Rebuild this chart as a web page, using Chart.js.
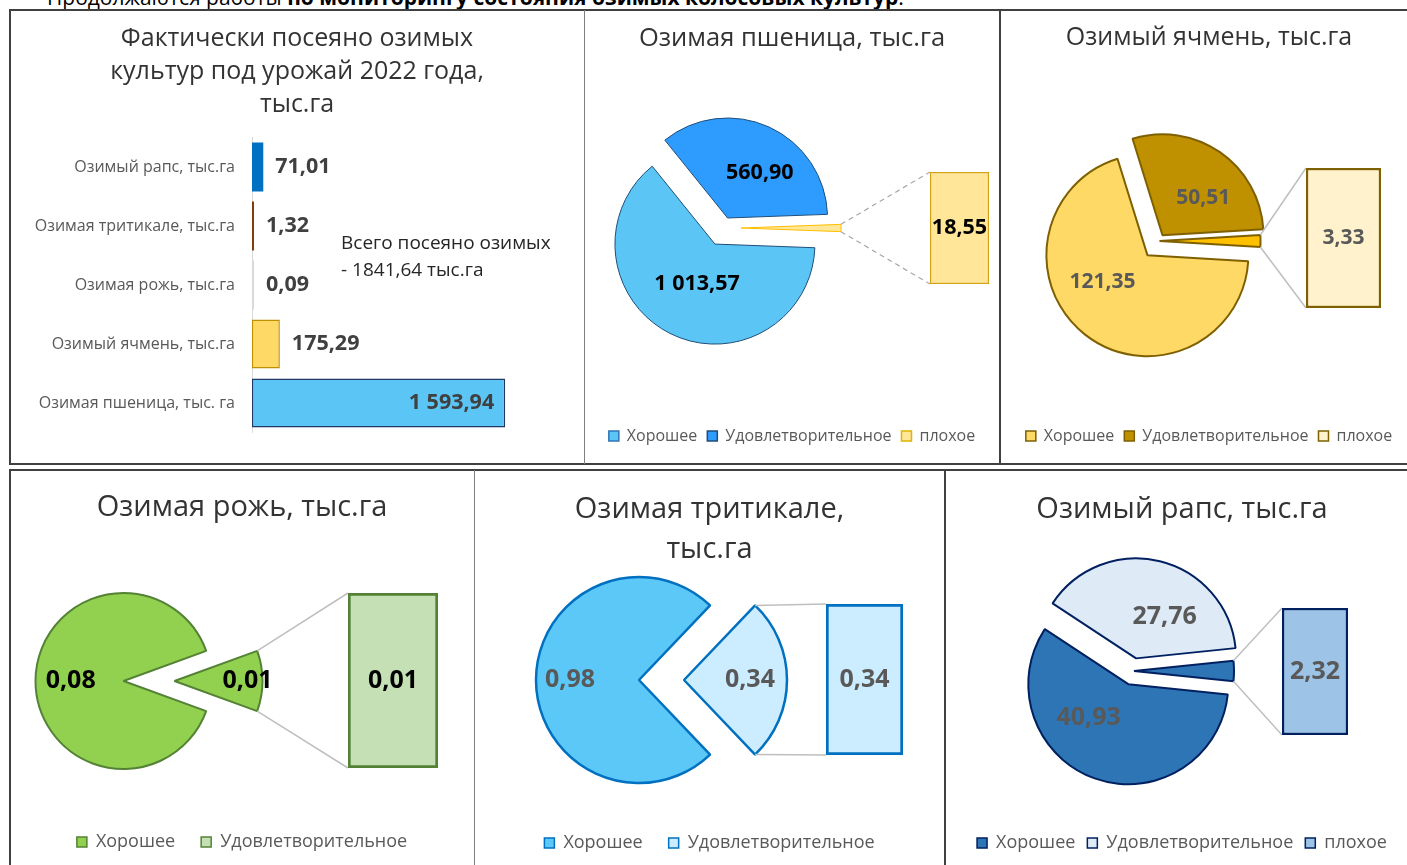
<!DOCTYPE html>
<html lang="ru">
<head>
<meta charset="utf-8">
<script src="https://cdn.jsdelivr.net/npm/chart.js@4.4.1/dist/chart.umd.min.js"></script>
<style>
  html, body { margin: 0; padding: 0; background: #fff; }
  body { width: 1407px; height: 865px; position: relative; overflow: hidden; font-family: 'Open Sans', sans-serif; }
  .lead { position: absolute; left: 47px; top: -16px; font-size: 21px; line-height: 26px; color: #000; white-space: nowrap; }
  .panel { position: absolute; overflow: hidden; }
  .panel canvas { position: absolute; }
  .frame { position: absolute; box-sizing: border-box; border: 0 solid #404040; pointer-events: none; }
  .vline { position: absolute; pointer-events: none; }
</style>
</head>
<body>
<div class="lead">Продолжаются работы <b>по мониторингу состояния озимых колосовых культур</b>.</div>

<div class="panel" id="sown" style="left:10px;top:10px;width:574px;height:453px;"></div>
<div class="panel" id="wheat" style="left:584px;top:10px;width:416px;height:453px;"></div>
<div class="panel" id="barley" style="left:1000px;top:10px;width:407px;height:453px;"></div>
<div class="panel" id="rye" style="left:10px;top:470px;width:464px;height:395px;"></div>
<div class="panel" id="triticale" style="left:474px;top:470px;width:471px;height:395px;"></div>
<div class="panel" id="rape" style="left:945px;top:470px;width:462px;height:395px;"></div>

<div class="frame" style="left:9px;top:9px;width:1420px;height:456px;border-top-width:2px;border-left-width:2px;border-bottom-width:2px;"></div>
<div class="vline" style="left:584px;top:10px;width:1px;height:454px;background:#7f7f7f;"></div>
<div class="vline" style="left:999px;top:10px;width:2px;height:454px;background:#404040;"></div>
<div class="frame" style="left:9px;top:469px;width:1420px;height:420px;border-top-width:2px;border-left-width:2px;"></div>
<div class="vline" style="left:474px;top:470px;width:1px;height:395px;background:#7f7f7f;"></div>
<div class="vline" style="left:944px;top:470px;width:2px;height:395px;background:#404040;"></div>

<script>
// ---- data ----
const sownCategories = ['Озимый рапс, тыс.га', 'Озимая тритикале, тыс.га', 'Озимая рожь, тыс.га', 'Озимый ячмень, тыс.га', 'Озимая пшеница, тыс. га'];
const sownValues = [71.01, 1.32, 0.09, 175.29, 1593.94];
const sownTotal = 1841.64;

const conditionNames = ['Хорошее', 'Удовлетворительное', 'плохое'];

const wheatValues = [1013.57, 560.90];   // Хорошее, Удовлетворительное
const wheatBad = [18.55];                // плохое (bar of pie)
const barleyValues = [121.35, 50.51];
const barleyBad = [3.33];
const ryeValues = [0.08];                // Хорошее
const ryeSatisf = [0.01];                // Удовлетворительное (bar of pie)
const triticaleValues = [0.98];
const triticaleSatisf = [0.34];
const rapeValues = [40.93, 27.76];
const rapeBad = [2.32];

// ---- helpers ----
const FONT = "'Open Sans', sans-serif";
Chart.defaults.font.family = FONT;

function fmt(v) {
  return v.toLocaleString('ru-RU', { minimumFractionDigits: 2, maximumFractionDigits: 2 }).replace(/[\u00a0\u202f]/g, ' ');
}
const sum = arr => arr.reduce((a, b) => a + b, 0);

function addCanvas(host, x, y, w, h) {
  const c = document.createElement('canvas');
  c.width = w; c.height = h;
  c.style.left = x + 'px'; c.style.top = y + 'px';
  c.style.width = w + 'px'; c.style.height = h + 'px';
  host.appendChild(c);
  return c;
}

// ---- panel 1: sown area, horizontal bars ----
const sownCanvas = addCanvas(document.getElementById('sown'), 0, 0, 574, 453);

const sownLabels = {
  id: 'sownLabels',
  afterDatasetsDraw(chart) {
    const ctx = chart.ctx;
    const meta = chart.getDatasetMeta(0);
    ctx.save();
    ctx.font = 'bold 21.5px ' + FONT;
    ctx.fillStyle = '#404040';
    ctx.textBaseline = 'middle';
    meta.data.forEach((bar, i) => {
      const text = fmt(sownValues[i]);
      if (bar.x - bar.base > 120) {
        ctx.textAlign = 'right';
        ctx.fillText(text, bar.x - 11, bar.y);
      } else {
        ctx.textAlign = 'left';
        ctx.fillText(text, bar.x + 12, bar.y);
      }
    });
    // total note
    const y = chart.scales.y;
    ctx.font = '19px ' + FONT;
    ctx.fillStyle = '#262626';
    ctx.textAlign = 'left';
    const x0 = chart.chartArea.left + 89;
    ctx.fillText('Всего посеяно озимых', x0, y.getPixelForValue(1.29));
    ctx.fillText('- ' + sownTotal.toLocaleString('ru-RU', { useGrouping: false, minimumFractionDigits: 2 }) + ' тыс.га', x0, y.getPixelForValue(1.75));
    ctx.restore();
  }
};

new Chart(sownCanvas, {
  type: 'bar',
  data: {
    labels: sownCategories,
    datasets: [{
      data: sownValues,
      backgroundColor: ['#0070C0', '#843C0C', '#D9D9D9', '#FFD966', '#5BC5F5'],
      borderColor: ['#0070C0', '#843C0C', '#D9D9D9', '#BF9000', '#1F3864'],
      borderWidth: [0, 0, 0, 1.5, 1.5],
      borderSkipped: false,
      minBarLength: 2,
      barPercentage: 0.83,
      categoryPercentage: 1
    }]
  },
  options: {
    indexAxis: 'y',
    responsive: false,
    animation: false,
    events: [],
    layout: { padding: { bottom: 30.5 } },
    plugins: {
      legend: { display: false },
      tooltip: { enabled: false },
      title: {
        display: true,
        text: ['Фактически посеяно озимых', 'культур под урожай 2022 года,', 'тыс.га'],
        color: '#333333',
        font: { size: 25, weight: 'normal', lineHeight: 1.32 },
        padding: { top: 12.5, bottom: 16 }
      }
    },
    scales: {
      x: { display: false, min: 0, max: 2090 },
      y: {
        afterFit(scale) { scale.width = 242; },
        grid: { display: false, drawTicks: false },
        border: { color: '#D9D9D9', width: 1 },
        ticks: { color: '#595959', font: { size: 16 }, padding: 17 }
      }
    }
  },
  plugins: [sownLabels]
});

// ---- pie-of-bar panels ----
function pieOfBar(p) {
  const host = document.getElementById(p.id);
  const canvasH = p.height + 40;
  const pieCanvas = addCanvas(host, 0, 0, p.width, canvasH);
  const boxCanvas = addCanvas(host, p.box[0], p.box[1], p.box[2], p.box[3]);
  const rest = sum(p.boxValues);
  const total = rest + sum(p.values);

  const boxLabel = {
    id: 'boxLabel',
    afterDatasetsDraw(chart) {
      const bar = chart.getDatasetMeta(0).data[0];
      const ctx = chart.ctx;
      ctx.save();
      ctx.font = 'bold ' + p.labelSize + 'px ' + FONT;
      ctx.fillStyle = p.labelColor;
      ctx.textAlign = 'center';
      ctx.textBaseline = 'middle';
      ctx.fillText(fmt(rest), bar.x, (bar.y + bar.base) / 2);
      ctx.restore();
    }
  };

  const boxChart = new Chart(boxCanvas, {
    type: 'bar',
    data: {
      labels: [p.names[p.names.length - 1]],
      datasets: [{
        data: [rest],
        backgroundColor: p.boxFill,
        borderColor: p.line,
        borderWidth: p.boxLine,
        borderSkipped: false,
        barPercentage: 1,
        categoryPercentage: 1
      }]
    },
    options: {
      responsive: false,
      animation: false,
      events: [],
      plugins: { legend: { display: false }, tooltip: { enabled: false } },
      scales: {
        x: { display: false },
        y: { display: false, min: 0, max: rest }
      }
    },
    plugins: [boxLabel]
  });

  const pieDecor = {
    id: 'pieDecor',
    afterLayout(chart) {
      const [cx, cy] = p.center;
      const h = p.radius + 40;
      chart.chartArea = { left: cx - h, top: cy - h, right: cx + h, bottom: cy + h, width: 2 * h, height: 2 * h };
    },
    afterDatasetUpdate(chart, args) {
      args.meta.data.forEach((arc, i) => {
        const d = p.explode[i] || 0;
        const mid = (arc.startAngle + arc.endAngle) / 2;
        arc.x += Math.cos(mid) * d;
        arc.y += Math.sin(mid) * d;
      });
    },
    afterDatasetsDraw(chart) {
      const ctx = chart.ctx;
      const meta = chart.getDatasetMeta(0);
      const data = chart.data.datasets[0].data;
      // leader lines from the "other" slice to the bar
      const s = meta.data[0];
      const R = s.outerRadius;
      const bar = boxChart.getDatasetMeta(0).data[0];
      const bx = p.box[0] + bar.x - bar.width / 2;
      const bTop = p.box[1] + bar.y;
      const bBottom = p.box[1] + bar.base;
      ctx.save();
      ctx.strokeStyle = p.connector;
      ctx.lineWidth = p.connectorWidth;
      ctx.setLineDash(p.dash || []);
      ctx.beginPath();
      ctx.moveTo(s.x + Math.cos(s.startAngle) * R, s.y + Math.sin(s.startAngle) * R);
      ctx.lineTo(bx, bTop);
      ctx.moveTo(s.x + Math.cos(s.endAngle) * R, s.y + Math.sin(s.endAngle) * R);
      ctx.lineTo(bx, bBottom);
      ctx.stroke();
      ctx.setLineDash([]);
      // slice labels
      ctx.font = 'bold ' + p.labelSize + 'px ' + FONT;
      ctx.fillStyle = p.labelColor;
      ctx.textAlign = 'center';
      ctx.textBaseline = 'middle';
      meta.data.forEach((arc, i) => {
        const at = p.labelAt[i];
        if (!at) return;
        const a = (arc.startAngle + arc.endAngle) / 2 + at[0] * Math.PI / 180;
        const r = at[1] * arc.outerRadius;
        ctx.fillText(fmt(data[i]), arc.x + Math.cos(a) * r, arc.y + Math.sin(a) * r);
      });
      ctx.restore();
    }
  };

  const legendBottom = (canvasH - p.legendY) - p.legendSize / 2 - p.legendPad;

  new Chart(pieCanvas, {
    type: 'pie',
    data: {
      labels: [''].concat(p.names.slice(0, p.values.length)),
      datasets: [{
        data: [rest].concat(p.values),
        backgroundColor: p.fills,
        borderColor: p.borders,
        borderWidth: p.lineWidth,
        clip: false
      }]
    },
    options: {
      responsive: false,
      animation: false,
      events: [],
      rotation: 90 - rest / total * 180,
      radius: p.radius,
      layout: { padding: { bottom: legendBottom } },
      plugins: {
        tooltip: { enabled: false },
        title: {
          display: true,
          text: p.title,
          color: '#333333',
          font: { size: p.titleSize, weight: 'normal', lineHeight: p.titleLine },
          padding: { top: p.titleTop, bottom: 0 }
        },
        legend: {
          position: 'bottom',
          labels: {
            color: '#595959',
            font: { size: p.legendSize },
            boxWidth: 10,
            boxHeight: 10,
            padding: p.legendGap,
            generateLabels: () => p.names.map((name, i) => ({
              text: name,
              fillStyle: p.legendFill[i],
              strokeStyle: p.legendLine[i],
              lineWidth: 1.5,
              hidden: false,
              index: i,
              fontColor: '#595959'
            }))
          }
        }
      }
    },
    plugins: [pieDecor]
  });
}

pieOfBar({
  id: 'wheat', width: 416, height: 453,
  title: ['Озимая пшеница, тыс.га'], titleSize: 25.5, titleLine: 1.3, titleTop: 12,
  names: conditionNames, values: wheatValues, boxValues: wheatBad,
  center: [139, 218], radius: 100, explode: [18, 18, 11],
  fills: ['#FFE699', '#5BC5F5', '#2E9BFF'], borders: ['#FFC000', '#1F4E79', '#1F4E79'], lineWidth: 1,
  line: '#D4A017', boxFill: '#FFE699', boxLine: 1.5, box: [346, 162, 59, 112],
  connector: '#A6A6A6', connectorWidth: 1.2, dash: [5, 4],
  labelSize: 21.5, labelColor: '#000000', labelAt: [null, [-2.6, 0.44], [11, 0.555]],
  legendSize: 16, legendGap: 10, legendPad: 10, legendY: 426,
  legendFill: ['#5BC5F5', '#2E9BFF', '#FFE699'], legendLine: ['#2E75B6', '#1F4E79', '#E0B400']
});

pieOfBar({
  id: 'barley', width: 418, height: 453,
  title: ['Озимый ячмень, тыс.га'], titleSize: 25, titleLine: 1.3, titleTop: 12,
  names: conditionNames, values: barleyValues, boxValues: barleyBad,
  center: [158.5, 231], radius: 101, explode: [1, 18, 7],
  fills: ['#FFC000', '#FFD966', '#BF9000'], borders: '#7F6000', lineWidth: 2,
  line: '#7F6000', boxFill: '#FFF2CC', boxLine: 2.5, box: [306, 158, 75, 140],
  connector: '#BFBFBF', connectorWidth: 1.5,
  labelSize: 21, labelColor: '#595959', labelAt: [null, [20.6, 0.52], [12.7, 0.55]],
  legendSize: 16, legendGap: 10, legendPad: 10, legendY: 426,
  legendFill: ['#FFD966', '#BF9000', '#FFF2CC'], legendLine: ['#7F6000', '#7F6000', '#7F6000']
});

pieOfBar({
  id: 'rye', width: 464, height: 395,
  title: ['Озимая рожь, тыс.га'], titleSize: 29, titleLine: 1.38, titleTop: 18,
  names: conditionNames.slice(0, 2), values: ryeValues, boxValues: ryeSatisf,
  center: [138.5, 211], radius: 88, explode: [26, 25],
  fills: ['#92D050', '#92D050'], borders: '#548235', lineWidth: 2,
  line: '#548235', boxFill: '#C5E0B4', boxLine: 3, box: [338, 123, 90, 175],
  connector: '#BFBFBF', connectorWidth: 1.5,
  labelSize: 25, labelColor: '#000000', labelAt: [[0, 0.83], [0, 0.6]],
  legendSize: 18, legendGap: 26, legendPad: 12, legendY: 370,
  legendFill: ['#92D050', '#C5E0B4'], legendLine: ['#548235', '#548235']
});

pieOfBar({
  id: 'triticale', width: 471, height: 395,
  title: ['Озимая тритикале,', 'тыс.га'], titleSize: 29, titleLine: 1.38, titleTop: 20,
  names: conditionNames.slice(0, 2), values: triticaleValues, boxValues: triticaleSatisf,
  center: [187.5, 210], radius: 103, explode: [22.5, 22.5],
  fills: ['#CCECFF', '#5BC8F7'], borders: '#0070C0', lineWidth: 2.5,
  line: '#0070C0', boxFill: '#CCECFF', boxLine: 3, box: [352, 134, 77, 151],
  connector: '#BFBFBF', connectorWidth: 1.5,
  labelSize: 25, labelColor: '#595959', labelAt: [[0, 0.64], [0, 0.67]],
  legendSize: 18, legendGap: 26, legendPad: 12, legendY: 371,
  legendFill: ['#5BC8F7', '#CCECFF'], legendLine: ['#0070C0', '#0070C0']
});

pieOfBar({
  id: 'rape', width: 474, height: 395,
  title: ['Озимый рапс, тыс.га'], titleSize: 29, titleLine: 1.38, titleTop: 20,
  names: conditionNames, values: rapeValues, boxValues: rapeBad,
  center: [188, 201], radius: 100, explode: [1, 14, 13],
  fills: ['#2E75B6', '#2E75B6', '#DEEBF7'], borders: '#002060', lineWidth: 2,
  line: '#002060', boxFill: '#9DC3E6', boxLine: 2.5, box: [337, 138, 66, 127],
  connector: '#BFBFBF', connectorWidth: 1.5,
  labelSize: 25, labelColor: '#595959', labelAt: [null, [30, 0.52], [21, 0.5]],
  legendSize: 18, legendGap: 12, legendPad: 12, legendY: 371,
  legendFill: ['#2E75B6', '#DEEBF7', '#9DC3E6'], legendLine: ['#002060', '#002060', '#002060']
});
</script>
</body>
</html>
